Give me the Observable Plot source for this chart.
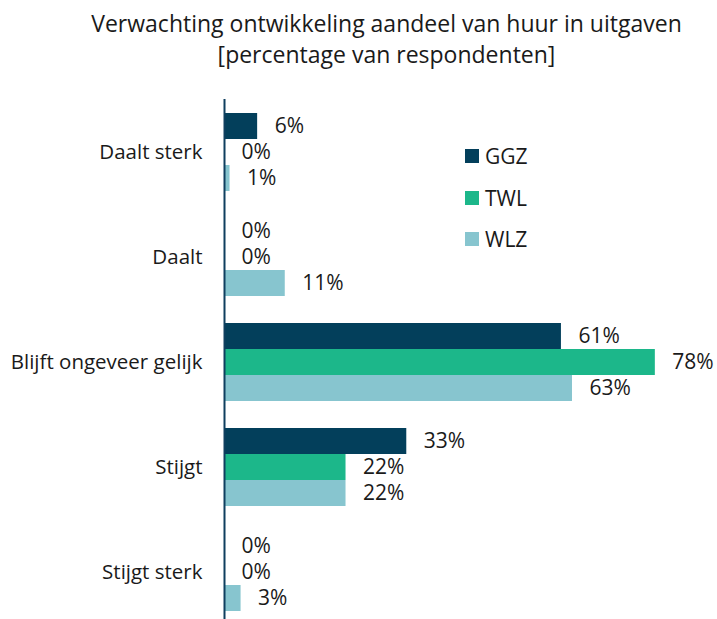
<!DOCTYPE html>
<html>
<head>
<meta charset="utf-8">
<script src="https://cdn.jsdelivr.net/npm/d3@7"></script>
<script src="https://cdn.jsdelivr.net/npm/@observablehq/plot@0.6"></script>
<style>
  html, body { margin: 0; padding: 0; background: #fff; overflow: hidden; }
  body { width: 717px; height: 619px; position: relative; font-family: "Open Sans", Lato, sans-serif; color: #1a1a1a; }
  #title { height: 80px; box-sizing: border-box; padding-top: 8px; text-align: center; font-size: 23px; line-height: 31px; padding-left: 56px; }
  #legend { position: absolute; left: 465px; top: 142px; font-size: 21px; }
  #legend .item { display: flex; align-items: center; height: 28px; margin-bottom: 13.5px; }
  #legend .sw { width: 14px; height: 14px; margin-right: 6px; }
  svg { display: block; }
</style>
</head>
<body>
<div id="title">Verwachting ontwikkeling aandeel van huur in uitgaven<br>[percentage van respondenten]</div>
<div id="chart"></div>
<div id="legend"></div>
<script>
const categories = ["Daalt sterk", "Daalt", "Blijft ongeveer gelijk", "Stijgt", "Stijgt sterk"];
const series = ["GGZ", "TWL", "WLZ"];
const ggz = [6, 0, 61, 33, 0];
const twl = [0, 0, 78, 22, 0];
const wlz = [1, 11, 63, 22, 3];
const colors = ["#033f5b", "#1cb78a", "#87c5cf"];

const values = [ggz, twl, wlz];
const data = categories.flatMap((c, i) => series.map((s, j) => ({category: c, series: s, value: values[j][i]})));

const barH = 26;
const font = "Open Sans";
const marks = [];
series.forEach((s, j) => {
  const rows = data.filter(d => d.series === s);
  marks.push(Plot.barX(rows, {
    x: "value", y: "category", fill: colors[j],
    insetTop: j * barH, insetBottom: (2 - j) * barH
  }));
  marks.push(Plot.text(rows, {
    x: "value", y: "category", text: d => d.value + "%",
    dy: (j - 1) * barH, dx: 17, textAnchor: "start",
    fontSize: 21, fill: "#1a1a1a", fontFamily: font
  }));
});
marks.push(Plot.ruleX([0], {stroke: "#0f3f5f", strokeWidth: 2}));
marks.push(Plot.axisY({tickSize: 0, tickPadding: 22, fontSize: 20.5, fontFamily: font, label: null, fill: "#1a1a1a"}));

const chart = Plot.plot({
  width: 717,
  height: 545,
  marginTop: 19,
  marginBottom: 0,
  marginLeft: 224,
  marginRight: 23.5,
  style: {fontFamily: font, background: "#fff", color: "#1a1a1a", overflow: "visible"},
  x: {domain: [0, 85], axis: null},
  y: {domain: categories, paddingInner: 0.259, paddingOuter: 0.128, label: null},
  marks
});
document.getElementById("chart").appendChild(chart);

const legend = document.getElementById("legend");
series.forEach((s, j) => {
  const item = document.createElement("div");
  item.className = "item";
  item.innerHTML = `<div class="sw" style="background:${colors[j]}"></div><span>${s}</span>`;
  legend.appendChild(item);
});
</script>
</body>
</html>
